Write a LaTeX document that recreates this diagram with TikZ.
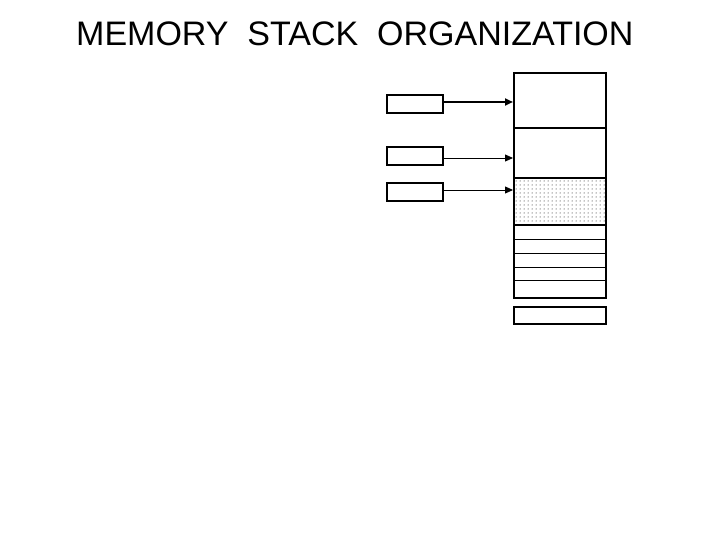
\documentclass[tikz,border=0pt]{standalone}
\usepackage{fontspec}
\setmainfont{Liberation Sans}
\usetikzlibrary{arrows.meta}
\begin{document}
\begin{tikzpicture}[x=1pt,y=-1pt,
  reg/.style={draw,line width=2pt,minimum width=56pt,minimum height=18pt,inner sep=0pt},
  arr/.style={-{Triangle[length=8pt,width=7pt]}}]
\useasboundingbox (0,0) rectangle (720,540);
\node[anchor=base west,font=\fontsize{34}{38}\selectfont,inner sep=0pt] (title) at (76,46) {MEMORY\ \ STACK\ \ ORGANIZATION};
% stack
\foreach \x in {516,520,...,604} \foreach \y in {181,185,...,224} \fill (\x,\y) circle (0.5pt);
\foreach \y in {239,253,267,280} \draw[line width=0.8pt] (513,\y) -- (605,\y);
\draw[line width=2pt] (513,128) -- (605,128);
\draw[line width=2pt] (513,178) -- (605,178);
\draw[line width=2pt] (513,225) -- (605,225);
\node[draw,line width=2pt,minimum width=92pt,minimum height=225pt,inner sep=0pt,anchor=north west] (stack) at (513,72) {};
\coordinate (t1) at (513,102);
\coordinate (t2) at (513,158);
\coordinate (t3) at (513,190);
\node[draw,line width=2pt,minimum width=92pt,minimum height=17pt,inner sep=0pt,anchor=north west] (dr) at (513,306) {};
\node[reg] (sp) at (415,104) {};
\node[reg] (ac) at (415,156) {};
\node[reg] (dr2) at (415,192) {};
\draw[arr,line width=2pt] (sp.east|-t1) -- (t1);
\draw[arr,line width=0.8pt] (ac.east|-t2) -- (t2);
\draw[arr,line width=0.8pt] (dr2.east|-t3) -- (t3);
\end{tikzpicture}
\end{document}
